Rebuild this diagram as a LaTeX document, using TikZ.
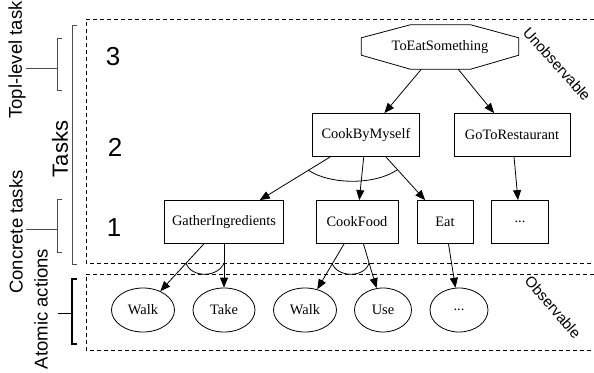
\documentclass[tikz,border=0pt]{standalone}
\usepackage{fontspec}
\setmainfont{Liberation Serif}
\setsansfont{Liberation Sans}
\usetikzlibrary{arrows.meta,shapes.geometric}
\begin{document}
\begin{tikzpicture}[x=1pt,y=-1pt,
  taskbox/.style={draw, line width=0.8pt, minimum height=43pt, inner sep=0pt, font=\fontsize{14.4}{17}\selectfont},
  actell/.style={draw, ellipse, line width=0.8pt, minimum height=44pt, inner sep=0pt, font=\fontsize{14.4}{17}\selectfont},
  arr/.style={-{Triangle[length=10pt,width=8pt]}, line width=0.8pt},
  andarc/.style={line width=0.8pt},
  sepline/.style={dash pattern=on 4pt off 3pt, line width=0.8pt},
  brk/.style={draw=black!70, line width=0.9pt},
  lab/.style={font=\sffamily\fontsize{18.5}{22}\selectfont, rotate=90, inner sep=0pt},
  num/.style={font=\sffamily\fontsize{26}{30}\selectfont, inner sep=0pt},
  obs/.style={font=\sffamily\fontsize{15}{18}\selectfont, inner sep=0pt}]
\useasboundingbox (0,0) rectangle (594,372);

% dashed regions
\draw[sepline] (594,19) -- (86,19) -- (86,263) -- (594,263);
\draw[sepline] (594,274) -- (86,274) -- (86,350) -- (594,350);

% left brackets
\draw[brk] (77,25) -- (72,25) -- (72,264) -- (77,264);
\draw[brk] (62,38) -- (57,38) -- (57,90) -- (62,90);
\draw[brk] (26,68) -- (57,68);
\draw[brk] (62,199) -- (57,199) -- (57,252) -- (62,252);
\draw[brk] (26,229) -- (57,229);
\draw[draw=black, line width=1.5pt] (77,279) -- (72,279) -- (72,344) -- (77,344);
\draw[draw=black, line width=0.9pt] (58,313) -- (72,313);

% labels
\node[lab] (ltop) at (17,60) {Topl-level task};
\node[lab] (lcon) at (16,232) {Concrete tasks};
\node[lab] (latom) at (41,309) {Atomic actions};
\node[lab, font=\sffamily\fontsize{22}{26}\selectfont] (ltasks) at (60,149) {Tasks};
\node[num] (n3) at (113,57) {3};
\node[num] (n2) at (115,147) {2};
\node[num] (n1) at (114,228) {1};
\node[obs, rotate=-48] (unobs) at (557,64) {Unobservable};
\node[obs, rotate=-49] (obsl) at (553,307) {Observable};

% task nodes
\node[minimum width=157pt, minimum height=44pt, inner sep=0pt, font=\fontsize{14.4}{17}\selectfont] (tes) at (440,47) {ToEatSomething};
\draw[line width=0.8pt] ([xshift=49pt]tes.north west) -- ([xshift=-48pt]tes.north east)
  -- ([yshift=-13pt]tes.north east) -- ([yshift=14pt]tes.south east)
  -- ([xshift=-48pt]tes.south east) -- ([xshift=49pt]tes.south west)
  -- ([yshift=14pt]tes.south west) -- ([yshift=-13pt]tes.north west) -- cycle;

\node[taskbox, minimum width=107pt] (cbm) at (366,135) {CookByMyself};
\node[taskbox, minimum width=116pt] (gtr) at (512,135) {GoToRestaurant};
\node[taskbox, minimum width=119pt] (gi) at (224,222) {GatherIngredients};
\node[taskbox, minimum width=82pt] (cf) at (357,222) {CookFood};
\node[taskbox, minimum width=56pt] (eat) at (445,222) {Eat};
\node[taskbox, minimum width=57pt] (dbox) at (520,222) {...};

% actions
\node[actell, minimum width=63pt] (walk1) at (143,310) {Walk};
\node[actell, minimum width=62pt] (take) at (224,310) {Take};
\node[actell, minimum width=63pt] (walk2) at (305,310) {Walk};
\node[actell, minimum width=57pt] (use) at (383,310) {Use};
\node[actell, minimum width=58pt] (dell) at (459,310) {...};

% edges
\draw[arr] (tes) -- (cbm);
\draw[arr] (tes) -- (gtr);
\draw[arr] (cbm) -- (gi);
\draw[arr] (cbm) -- (cf);
\draw[arr] (cbm) -- (eat);
\draw[arr] (gtr) -- (dbox);
\draw[arr] (gi) -- (walk1);
\draw[arr] (gi) -- (take);
\draw[arr] (cf) -- (walk2);
\draw[arr] (cf) -- (use);
\draw[arr] (eat) -- (dell);

% AND arcs
\draw[andarc] (308,170) .. controls (330,185) and (375,185) .. (397,170);
\draw[andarc] (186,263) .. controls (191,278) and (218,278) .. (224,263);
\draw[andarc] (332,263) .. controls (337,278) and (365,278) .. (369,263);
\end{tikzpicture}
\end{document}
